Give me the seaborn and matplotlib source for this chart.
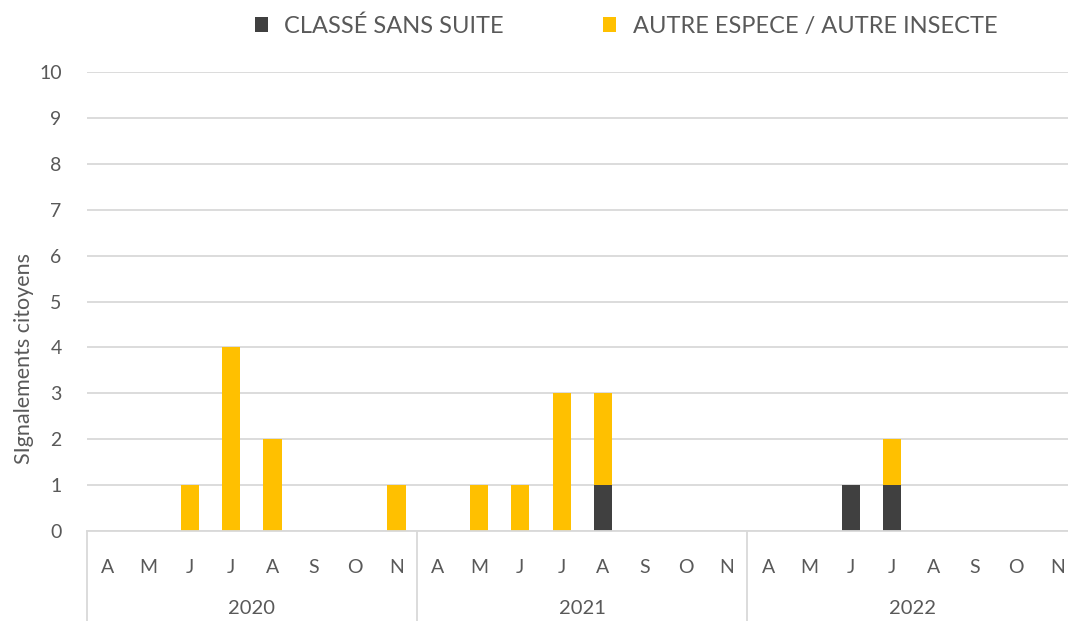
import pandas as pd
import matplotlib.pyplot as plt
import seaborn as sns
import numpy as np
from matplotlib.transforms import blended_transform_factory

years = ['2020', '2021', '2022']
months = ['A', 'M', 'J', 'J', 'A', 'S', 'O', 'N']

classe_sans_suite = [0, 0, 0, 0, 0, 0, 0, 0,
                     0, 0, 0, 0, 1, 0, 0, 0,
                     0, 0, 1, 1, 0, 0, 0, 0]
autre_espece = [0, 0, 1, 4, 2, 0, 0, 1,
                0, 1, 1, 3, 2, 0, 0, 0,
                0, 0, 0, 1, 0, 0, 0, 0]

label_classe = 'CLASSÉ SANS SUITE'
label_autre = 'AUTRE ESPECE / AUTRE INSECTE'
y_label = 'SIgnalements citoyens'

GREY_TEXT = '#595959'
GRID = '#d9d9d9'
YELLOW = '#FFC000'
DARK = '#404040'

sns.set_style('white')
plt.rcParams['font.family'] = ['Lato', 'DejaVu Sans']

keys = [f'{y}-{i}' for y in years for i in range(len(months))]
df = pd.DataFrame({
    'key': keys,
    'classe': classe_sans_suite,
    'autre': autre_espece,
})
df['total'] = df['classe'] + df['autre']

fig = plt.figure(figsize=(10.68, 6.21), dpi=100)
ax = fig.add_axes([0.0812, 0.145, 0.928, 0.7387])

# yellow drawn at full height, dark on top of it for the stacked look
sns.barplot(data=df, x='key', y='total', order=keys, color=YELLOW,
            width=0.44, linewidth=0, saturation=1, ax=ax, label=label_autre)
sns.barplot(data=df, x='key', y='classe', order=keys, color=DARK,
            width=0.44, linewidth=0, saturation=1, ax=ax, label=label_classe)
if ax.get_legend() is not None:
    ax.get_legend().remove()

ax.set_ylim(0, 10)
ax.set_xlim(-0.5, len(keys) - 0.5)
ax.set_yticks(range(0, 11))
ax.yaxis.grid(True, color=GRID, linewidth=1.3)
ax.set_axisbelow(True)
for s in ['top', 'right', 'left']:
    ax.spines[s].set_visible(False)
ax.spines['bottom'].set_color(GRID)
ax.spines['bottom'].set_linewidth(1.3)

ax.set_xticks(range(len(keys)))
ax.set_xticklabels(months * len(years))
ax.tick_params(axis='x', length=0, pad=20, labelsize=14, labelcolor=GREY_TEXT)
ax.tick_params(axis='y', length=0, pad=18, labelsize=14, labelcolor=GREY_TEXT)
ax.set_xlabel('')
ax.set_ylabel('')

# multi-level category axis
trans = blended_transform_factory(ax.transData, ax.transAxes)
for b in np.arange(-0.5, len(keys), len(months)):
    ax.plot([b, b], [0, -0.2], transform=trans, color=GRID, linewidth=1.3,
            clip_on=False)
for i, y in enumerate(years):
    c = i * len(months) + (len(months) - 1) / 2
    ax.text(c, -0.168, y, transform=trans, ha='center', va='center',
            fontsize=14.5, color=GREY_TEXT)

fig.text(24 / 1068, 1 - 358 / 621, y_label, rotation=90, ha='center',
         va='center', fontsize=15.5, color=GREY_TEXT)

handles, labels = ax.get_legend_handles_labels()
order = [labels.index(label_classe), labels.index(label_autre)]
leg = fig.legend([handles[i] for i in order], [labels[i] for i in order],
                 loc='center', bbox_to_anchor=(626 / 1068, 1 - 26 / 621),
                 ncol=2, frameon=False, fontsize=17, handlelength=0.55,
                 handleheight=0.55, handletextpad=0.7, columnspacing=4.2)
for t in leg.get_texts():
    t.set_color(GREY_TEXT)

fig.savefig('out.png', dpi=100)
